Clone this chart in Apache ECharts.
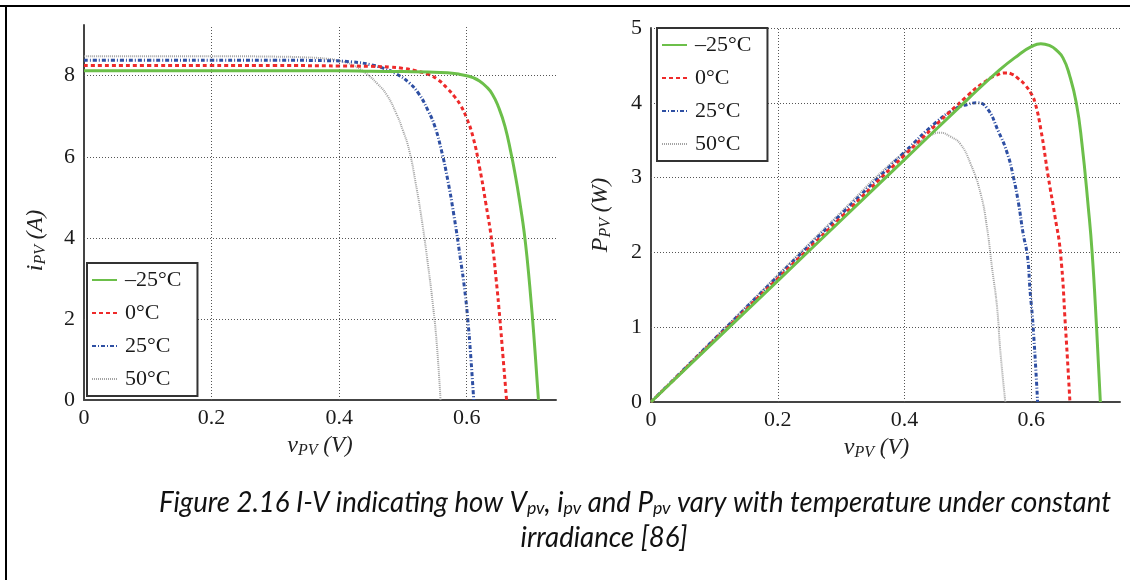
<!DOCTYPE html>
<html>
<head>
<meta charset="utf-8">
<script src="https://cdn.jsdelivr.net/npm/echarts@6/dist/echarts.min.js"></script>
<style>
  html, body { margin: 0; padding: 0; background: #fff; }
  #main { width: 1130px; height: 580px; }
</style>
</head>
<body>
<div id="main"></div>
<script>
// legend names
const temps = ['\u201325\u00b0C', '0\u00b0C', '25\u00b0C', '50\u00b0C'];
const colors = ['#6cbf4a', '#ee2a2a', '#2e4fa3', '#a3a3a3'];

// tick / grid values
const xTicks = [0.2, 0.4, 0.6];
const iTicks = [2, 4, 6, 8];
const pTicks = [1, 2, 3, 4, 5];

// I-V curves
const vI_n25 = [0, 0.1, 0.2, 0.3, 0.4, 0.45, 0.5, 0.54, 0.57, 0.59, 0.6, 0.61, 0.62, 0.63, 0.64, 0.65, 0.66, 0.67, 0.675, 0.68, 0.685, 0.69, 0.695, 0.7, 0.705, 0.71, 0.7125];
const iI_n25 = [8.12, 8.12, 8.12, 8.12, 8.12, 8.11, 8.1, 8.09, 8.07, 8.03, 8.0, 7.95, 7.87, 7.74, 7.55, 7.22, 6.75, 6.05, 5.65, 5.2, 4.7, 4.15, 3.45, 2.6, 1.65, 0.55, 0];
const vI_0 = [0, 0.1, 0.2, 0.3, 0.4, 0.45, 0.48, 0.5, 0.52, 0.54, 0.555, 0.57, 0.58, 0.59, 0.6, 0.61, 0.62, 0.63, 0.64, 0.646, 0.652, 0.657, 0.6625];
const iI_0 = [8.25, 8.25, 8.25, 8.25, 8.24, 8.23, 8.21, 8.18, 8.12, 8.03, 7.9, 7.68, 7.5, 7.28, 6.95, 6.48, 5.75, 4.85, 3.85, 3.0, 2.0, 1.05, 0];
const vI_25 = [0, 0.1, 0.2, 0.3, 0.38, 0.42, 0.45, 0.47, 0.49, 0.51, 0.525, 0.54, 0.55, 0.56, 0.57, 0.58, 0.59, 0.597, 0.6016, 0.606, 0.611];
const iI_25 = [8.38, 8.38, 8.38, 8.38, 8.37, 8.34, 8.27, 8.18, 8.04, 7.82, 7.55, 7.12, 6.75, 6.18, 5.45, 4.55, 3.5, 2.7, 2.0, 1.15, 0];
const vI_50 = [0, 0.1, 0.2, 0.3, 0.35, 0.38, 0.4, 0.42, 0.44, 0.46, 0.475, 0.49, 0.5, 0.51, 0.52, 0.53, 0.54, 0.547, 0.553, 0.559];
const iI_50 = [8.48, 8.48, 8.48, 8.47, 8.45, 8.42, 8.37, 8.27, 8.08, 7.8, 7.52, 7.05, 6.65, 6.15, 5.35, 4.4, 3.25, 2.35, 1.4, 0];

// P-V curves
const vP_n25 = [0, 0.1, 0.2, 0.3, 0.4, 0.5, 0.55, 0.58, 0.6, 0.615, 0.63, 0.64, 0.65, 0.66, 0.671, 0.68, 0.69, 0.696, 0.703, 0.709];
const pP_n25 = [0, 0.81, 1.62, 2.43, 3.24, 4.05, 4.44, 4.64, 4.75, 4.79, 4.76, 4.7, 4.6, 4.38, 4.0, 3.45, 2.6, 2.0, 1.0, 0];
const vP_0 = [0, 0.1, 0.2, 0.3, 0.4, 0.5, 0.53, 0.545, 0.559, 0.57, 0.58, 0.59, 0.6, 0.606, 0.615, 0.627, 0.637, 0.646, 0.654, 0.661];
const pP_0 = [0, 0.825, 1.65, 2.47, 3.3, 4.1, 4.3, 4.37, 4.4, 4.38, 4.32, 4.24, 4.12, 4.0, 3.65, 3.0, 2.5, 2.0, 1.0, 0];
const vP_25 = [0, 0.1, 0.2, 0.3, 0.4, 0.45, 0.48, 0.5, 0.515, 0.53, 0.548, 0.562, 0.572, 0.58, 0.587, 0.594, 0.598, 0.603, 0.61];
const pP_25 = [0, 0.84, 1.68, 2.51, 3.34, 3.74, 3.92, 3.98, 4.0, 3.93, 3.62, 3.33, 3.0, 2.65, 2.26, 1.95, 1.5, 1.0, 0];
const vP_50 = [0, 0.1, 0.2, 0.3, 0.38, 0.42, 0.44, 0.456, 0.472, 0.488, 0.504, 0.52, 0.53, 0.538, 0.546, 0.551, 0.559];
const pP_50 = [0, 0.85, 1.7, 2.54, 3.2, 3.45, 3.56, 3.6, 3.55, 3.45, 3.19, 2.79, 2.34, 1.8, 1.27, 0.7, 0];

const ivSets = [[vI_n25, iI_n25], [vI_0, iI_0], [vI_25, iI_25], [vI_50, iI_50]];
const pvSets = [[vP_n25, pP_n25], [vP_0, pP_0], [vP_25, pP_25], [vP_50, pP_50]];

const serif = '"Liberation Serif", "DejaVu Serif", serif';
const lineStyles = [
    { color: colors[0], width: 3, type: 'solid' },
    { color: colors[1], width: 3, type: [4, 3] },
    { color: colors[2], width: 3, type: [4, 2, 1, 2] },
    { color: colors[3], width: 2, type: [1, 1] }
];

const chart = echarts.init(document.getElementById('main'));

function pairs(set) {
    return set[0].map((v, k) => [v, set[1][k]]);
}

function gridLines(idx, yTicks) {
    return {
        name: 'grid' + idx,
        type: 'line',
        xAxisIndex: idx,
        yAxisIndex: idx,
        data: [],
        z: 1,
        silent: true,
        markLine: {
            silent: true,
            symbol: 'none',
            animation: false,
            label: { show: false },
            lineStyle: { color: '#555', width: 1, type: [1, 2] },
            data: xTicks.map(v => ({ xAxis: v })).concat(yTicks.map(v => ({ yAxis: v })))
        }
    };
}

const series = [gridLines(0, iTicks), gridLines(1, pTicks)];
[ivSets, pvSets].forEach((sets, idx) => {
    sets.forEach((set, k) => {
        series.push({
            name: temps[k],
            type: 'line',
            xAxisIndex: idx,
            yAxisIndex: idx,
            data: pairs(set),
            showSymbol: false,
            symbol: 'none',
            smooth: 0.5,
            z: 5 - k,
            lineStyle: lineStyles[k],
            itemStyle: { color: colors[k] },
            animation: false
        });
    });
});

const axisLine = { show: true, lineStyle: { color: '#444', width: 2 } };
const tickLabel = { color: '#1a1a1a', fontFamily: serif, fontSize: 22, showMaxLabel: false };
const nameRich = {
    i: { fontFamily: serif, fontStyle: 'italic', fontSize: 24, lineHeight: 26, color: '#222' },
    s: { fontFamily: serif, fontStyle: 'italic', fontSize: 16, lineHeight: 16, verticalAlign: 'bottom', color: '#222' },
    n: { fontFamily: serif, fontStyle: 'italic', fontSize: 23, lineHeight: 26, color: '#222' }
};

function xAx(idx, pad) {
    return {
        gridIndex: idx, type: 'value', min: 0, max: 0.74, interval: 0.2,
        axisLine: axisLine, axisTick: { show: false }, splitLine: { show: false },
        axisLabel: Object.assign({}, tickLabel, { margin: 7 }),
        name: '{i|v}{s|PV}{n| (V)}', nameLocation: 'middle', nameGap: 30,
        nameTextStyle: { rich: nameRich, padding: pad }
    };
}

function yAx(idx, max, interval, letter, unit, gap, pad) {
    return {
        gridIndex: idx, type: 'value', min: 0, max: max, interval: interval,
        axisLine: axisLine, axisTick: { show: false }, splitLine: { show: false },
        axisLabel: Object.assign({}, tickLabel, { margin: 9, showMaxLabel: max === 5 }),
        name: '{i|' + letter + '}{s|PV}{n| (' + unit + ')}', nameLocation: 'middle', nameGap: gap,
        nameTextStyle: { rich: nameRich, padding: pad }
    };
}

function legend(left, top) {
    return {
        data: temps,
        orient: 'vertical',
        left: left,
        top: top,
        itemWidth: 25,
        itemHeight: 14,
        itemGap: 11,
        padding: [6, 16, 6, 4],
        backgroundColor: '#fff',
        borderColor: '#333',
        borderWidth: 2,
        borderRadius: 0,
        selectedMode: false,
        itemStyle: { opacity: 0 },
        textStyle: { fontFamily: serif, fontSize: 22, lineHeight: 22, color: '#1a1a1a', padding: [0, 0, 0, 3] },
        z: 10
    };
}

const capFont = 'italic 28px Lato, "Open Sans", sans-serif';

const option = {
    backgroundColor: '#fff',
    animation: false,
    grid: [
        { left: 84, top: 25, width: 472, height: 375 },
        { left: 651, top: 28, width: 469, height: 374 }
    ],
    xAxis: [xAx(0, 0), xAx(1, [0, 18, 0, 0])],
    yAxis: [yAx(0, 9.25, 2, 'i', 'A', 35, [0, 56, 0, 0]), yAx(1, 5, 1, 'P', 'W', 37, 0)],
    legend: [legend(87, 263), legend(657, 28)],
    series: series,
    graphic: [
        { type: 'line', shape: { x1: 0, y1: 6, x2: 1130, y2: 6 }, style: { stroke: '#000', lineWidth: 2 } },
        { type: 'line', shape: { x1: 6, y1: 6, x2: 6, y2: 580 }, style: { stroke: '#000', lineWidth: 2 } },
        {
            type: 'text', x: 635, y: 503, scaleX: 0.985,
            style: {
                text: 'Figure 2.16 I-V indicating how V{s|pv}, i{s|pv} and P{s|pv} vary with temperature under constant',
                align: 'center', verticalAlign: 'middle',
                font: capFont, fill: '#111',
                rich: { s: { font: 'italic 18px Lato, "Open Sans", sans-serif', lineHeight: 18, verticalAlign: 'bottom', fill: '#111' } }
            }
        },
        {
            type: 'text', x: 604, y: 538, scaleX: 0.985,
            style: {
                text: 'irradiance [86]',
                align: 'center', verticalAlign: 'middle',
                font: capFont, fill: '#111'
            }
        }
    ]
};

chart.setOption(option);
</script>
</body>
</html>
